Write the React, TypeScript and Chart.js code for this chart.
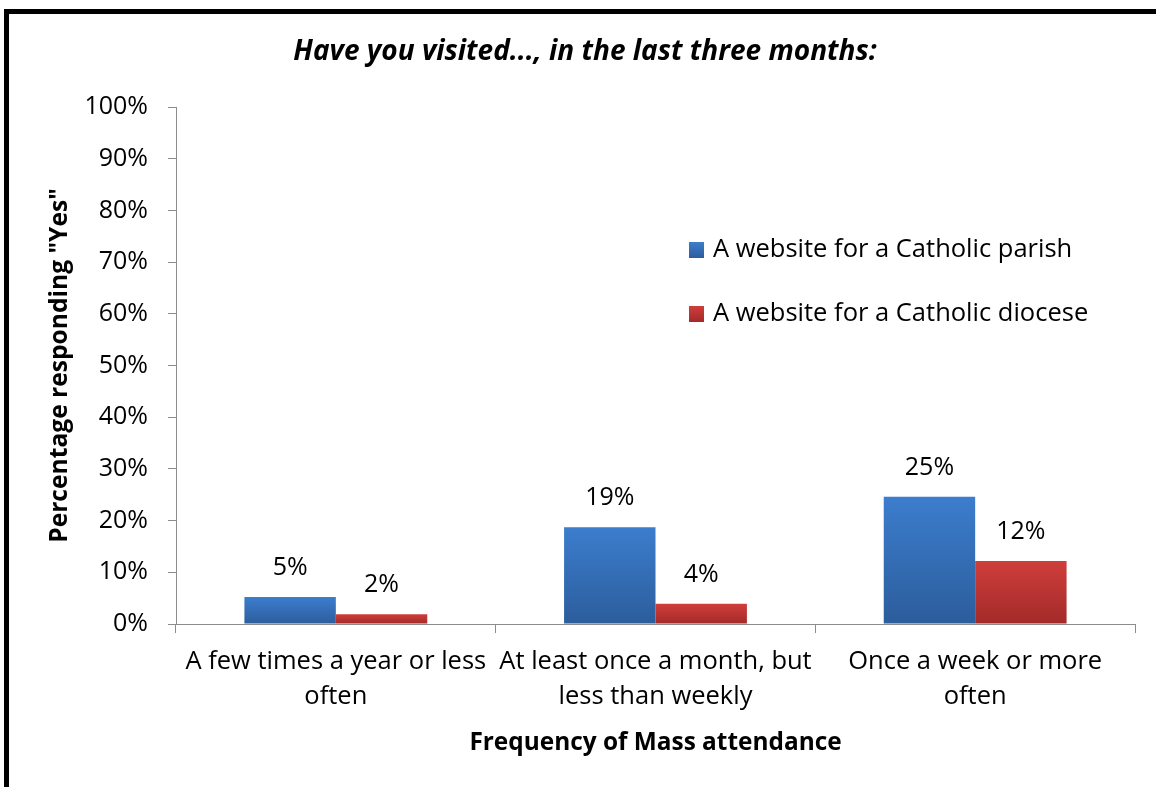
import React, { useEffect, useRef } from "react";
import { Chart, registerables } from "chart.js";

Chart.register(...registerables);

const categories: string[][] = [
  ["A few times a year or less", "often"],
  ["At least once a month, but", "less than weekly"],
  ["Once a week or more", "often"],
];
const seriesNames = ["A website for a Catholic parish", "A website for a Catholic diocese"];
const parishValues = [5.2, 18.7, 24.6];
const dioceseValues = [1.9, 3.9, 12.2];
const yTickValues = [0, 10, 20, 30, 40, 50, 60, 70, 80, 90, 100];

const FONT = "'Open Sans', 'Noto Sans', sans-serif";
const BLUE_TOP = "#3c7dcd";
const BLUE_BOT = "#2c5d9c";
const RED_TOP = "#cf3e3b";
const RED_BOT = "#a32a29";

function gradientFor(top: string, bot: string) {
  return (ctx: any) => {
    const chart = ctx.chart;
    const ys = chart.scales?.y;
    if (!ys || ctx.type !== "data") return top;
    const v = ctx.raw as number;
    const y0 = ys.getPixelForValue(v);
    const y1 = ys.getPixelForValue(0);
    if (!isFinite(y0) || !isFinite(y1) || y0 === y1) return top;
    const g = chart.ctx.createLinearGradient(0, y0, 0, y1);
    g.addColorStop(0, top);
    g.addColorStop(1, bot);
    return g;
  };
}

const framePlugin = {
  id: "frame",
  beforeDraw(chart: any) {
    const c = chart.ctx;
    c.save();
    c.fillStyle = "#ffffff";
    c.fillRect(0, 0, chart.width, chart.height);
    c.fillStyle = "#000000";
    c.fillRect(4, 9, chart.width, 5);
    c.fillRect(4, 9, 5, chart.height);
    c.restore();
  },
};

const titlePlugin = {
  id: "customTitle",
  afterDraw(chart: any) {
    const c = chart.ctx;
    c.save();
    c.fillStyle = "#000";
    c.font = `italic bold 28px ${FONT}`;
    c.textAlign = "center";
    c.textBaseline = "middle";
    c.fillText("Have you visited..., in the last three months:", 585, 52);
    c.restore();
  },
};

const valueLabelPlugin = {
  id: "valueLabels",
  afterDatasetsDraw(chart: any) {
    const c = chart.ctx;
    c.save();
    c.fillStyle = "#000";
    c.font = `25px ${FONT}`;
    c.textAlign = "center";
    c.textBaseline = "middle";
    chart.data.datasets.forEach((ds: any, di: number) => {
      const meta = chart.getDatasetMeta(di);
      meta.data.forEach((el: any, i: number) => {
        const v = ds.data[i] as number;
        c.fillText(`${Math.round(v)}%`, el.x, el.y - 29);
      });
    });
    c.restore();
  },
};

const legendPlugin = {
  id: "customLegend",
  afterDraw(chart: any) {
    const c = chart.ctx;
    c.save();
    c.font = `25.5px ${FONT}`;
    c.textBaseline = "middle";
    c.textAlign = "left";
    const rows = [250, 314];
    const cols = [[BLUE_TOP, BLUE_BOT], [RED_TOP, RED_BOT]];
    seriesNames.forEach((name, i) => {
      const y = rows[i];
      const g = c.createLinearGradient(0, y - 8, 0, y + 8);
      g.addColorStop(0, cols[i][0]);
      g.addColorStop(1, cols[i][1]);
      c.fillStyle = g;
      c.fillRect(689, y - 8, 15, 16);
      c.fillStyle = "#000";
      c.fillText(name, 713, y);
    });
    c.restore();
  },
};

export default function App() {
  const ref = useRef<HTMLCanvasElement | null>(null);
  useEffect(() => {
    document.body.style.margin = "0";
    document.body.style.overflow = "hidden";
    const canvas = ref.current;
    if (!canvas) return;
    const chart = new Chart(canvas, {
      type: "bar",
      data: {
        labels: categories as any,
        datasets: [
          {
            label: seriesNames[0],
            data: parishValues,
            backgroundColor: gradientFor(BLUE_TOP, BLUE_BOT) as any,
            borderWidth: 0,
            categoryPercentage: 0.572,
            barPercentage: 1,
          },
          {
            label: seriesNames[1],
            data: dioceseValues,
            backgroundColor: gradientFor(RED_TOP, RED_BOT) as any,
            borderWidth: 0,
            categoryPercentage: 0.572,
            barPercentage: 1,
          },
        ],
      },
      options: {
        responsive: false,
        animation: false,
        devicePixelRatio: 1,
        layout: { padding: { left: 20, right: 21, top: 107, bottom: 20 } },
        plugins: {
          legend: { display: false },
          title: { display: false },
          tooltip: { enabled: false },
        },
        scales: {
          x: {
            grid: {
              offset: true,
              drawOnChartArea: false,
              drawTicks: true,
              tickLength: 9,
              color: "#8c8c8c",
            },
            border: { color: "#8c8c8c", width: 1 },
            ticks: {
              color: "#000",
              font: { family: FONT, size: 25.5, lineHeight: 1.37 },
              padding: 11,
              maxRotation: 0,
              autoSkip: false,
            },
            title: {
              display: true,
              text: "Frequency of Mass attendance",
              color: "#000",
              font: { family: FONT, size: 24.4, weight: "bold", lineHeight: 1.2 },
              padding: { top: 0, bottom: 9 },
            },
            afterFit(scale: any) {
              scale.height = 143;
            },
          },
          y: {
            min: 0,
            max: 100,
            afterBuildTicks(scale: any) {
              scale.ticks = yTickValues.map((v) => ({ value: v }));
            },
            grid: {
              drawOnChartArea: false,
              drawTicks: true,
              tickLength: 8,
              color: "#8c8c8c",
            },
            border: { color: "#8c8c8c", width: 1 },
            ticks: {
              color: "#000",
              font: { family: FONT, size: 25 },
              padding: 20,
              callback: (v: any) => `${v}%`,
            },
            title: {
              display: true,
              text: 'Percentage responding "Yes"',
              color: "#000",
              font: { family: FONT, size: 24.6, weight: "bold", lineHeight: 1.2 },
              padding: { top: 25, bottom: 0 },
            },
            afterFit(scale: any) {
              scale.width = 156;
            },
          },
        },
      },
      plugins: [framePlugin, titlePlugin, valueLabelPlugin, legendPlugin],
    });
    return () => chart.destroy();
  }, []);
  return (
    <div style={{ width: 1156, height: 787, overflow: "hidden" }}>
      <canvas ref={ref} width={1156} height={787} style={{ display: "block" }} />
    </div>
  );
}
